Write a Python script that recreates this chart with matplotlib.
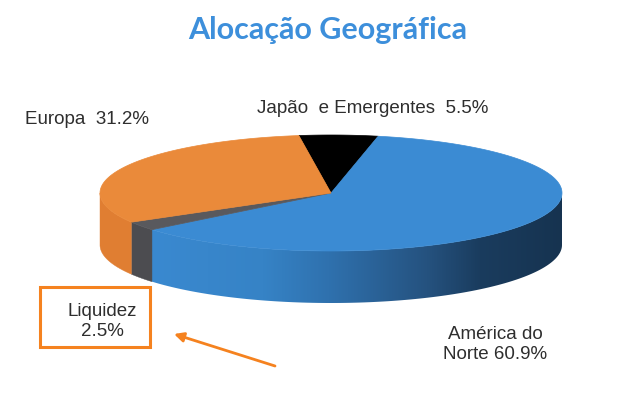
import numpy as np
import matplotlib
matplotlib.use("Agg")
import matplotlib.pyplot as plt
from matplotlib.patches import Polygon, Rectangle
from matplotlib.colors import LinearSegmentedColormap

# ---- data ----
categories = ["Japão e Emergentes", "América do Norte", "Liquidez", "Europa"]
values = [5.5, 60.9, 2.5, 31.2]
top_colors = ["#000000", "#3b8bd3", "#59595d", "#ea8a3a"]
side_colors = ["#000000", None, "#4c4c50", "#e07e32"]
label_texts = ["Japão  e Emergentes  5.5%", "América do\nNorte 60.9%", "Liquidez\n2.5%", "Europa  31.2%"]
title = "Alocação Geográfica"

W, H = 631, 402
fig = plt.figure(figsize=(W / 100, H / 100), dpi=100)
ax = fig.add_axes([0, 0, 1, 1])
ax.set_xlim(0, W)
ax.set_ylim(H, 0)
ax.axis("off")

cx, cy, a, b, depth = 331, 194, 231, 58, 52
start = 98.0
total = sum(values)

def pt(t, dy=0):
    r = np.radians(t)
    return cx + a * np.cos(r), cy - b * np.sin(r) + dy

blue_side = LinearSegmentedColormap.from_list(
    "bs", [(0.0, "#3a89d0"), (0.27, "#3683c6"), (0.43, "#2f71ae"),
           (0.67, "#25527f"), (0.80, "#1a3c5e"), (1.0, "#163350")])

# slice angle ranges (clockwise)
ranges = []
ang = start
for v in values:
    span = v / total * 360
    ranges.append((ang - span, ang))
    ang -= span

# side walls: visible where sin(t) < 0
for i, (t0, t1) in enumerate(ranges):
    for k in (-360, 0, 360):
        lo = max(t0, -180 + k)
        hi = min(t1, 0 + k)
        if hi <= lo:
            continue
        tt = np.linspace(lo, hi, 120)
        top = [pt(t) for t in tt]
        bot = [pt(t, depth) for t in tt[::-1]]
        if side_colors[i] is None:
            poly = Polygon(top + bot, closed=True, facecolor="none", edgecolor="none")
            ax.add_patch(poly)
            xs = [p[0] for p in top]
            x0, x1 = min(xs), max(xs)
            grad = np.linspace(0, 1, 256).reshape(1, -1)
            im = ax.imshow(grad, cmap=blue_side, aspect="auto",
                           extent=(x0, x1, cy + b + depth + 2, cy - 2),
                           interpolation="bilinear", zorder=1)
            im.set_clip_path(poly)
        else:
            ax.add_patch(Polygon(top + bot, closed=True, facecolor=side_colors[i],
                                 edgecolor=side_colors[i], lw=0.3, zorder=1))

# top faces
for i, (t0, t1) in enumerate(ranges):
    tt = np.linspace(t0, t1, 200)
    poly = [(cx, cy)] + [pt(t) for t in tt]
    ax.add_patch(Polygon(poly, closed=True, facecolor=top_colors[i],
                         edgecolor=top_colors[i], lw=0.5, zorder=2))

# title
ax.text(328, 30, title, ha="center", va="center",
        fontsize=22, fontweight="bold", color="#3d8fdb", family="Lato")

tc = "#2e2e2e"
fs = 13.5
ax.text(373, 113, label_texts[0], ha="center", va="baseline", fontsize=fs,
        color=tc, family="Liberation Sans")
ax.text(87, 124, label_texts[3], ha="center", va="baseline", fontsize=fs,
        color=tc, family="Liberation Sans")
ax.text(495, 359, label_texts[1], ha="center", va="baseline", fontsize=fs,
        color=tc, family="Liberation Sans", linespacing=1.2)
ax.text(102, 336, label_texts[2], ha="center", va="baseline", fontsize=fs,
        color=tc, family="Liberation Sans", linespacing=1.2)

ax.add_patch(Rectangle((40, 288), 110, 60, facecolor="none", edgecolor="#f5821f", lw=2.2))
ax.annotate("", xy=(174, 335), xytext=(275, 367),
            arrowprops=dict(arrowstyle="-|>", color="#f5821f", lw=2,
                            mutation_scale=14, shrinkA=0, shrinkB=0))

fig.savefig("out.png", dpi=100, facecolor="white")
